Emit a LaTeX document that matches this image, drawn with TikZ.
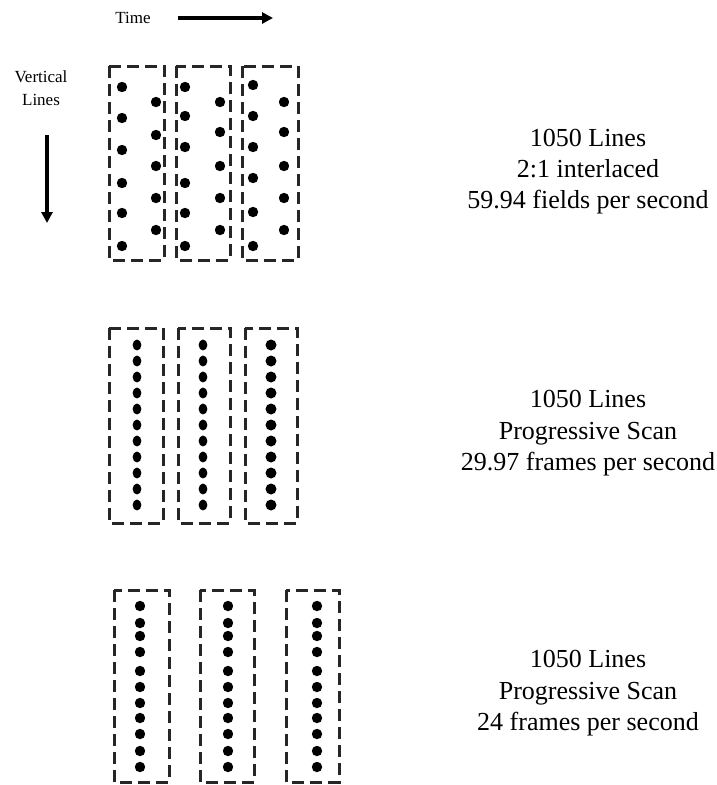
\documentclass[tikz,border=0pt]{standalone}
\usepackage{fontspec}
\setmainfont{Liberation Serif}
\usetikzlibrary{arrows.meta}
\definecolor{dashgray}{HTML}{262626}
\tikzset{
  framebox/.style={draw=dashgray, line width=3pt, dash pattern=on 12pt off 6pt},
  bigtext/.style={anchor=base, inner sep=0pt, font=\fontsize{26}{30}\selectfont},
  smalltext/.style={anchor=base, inner sep=0pt, font=\fontsize{17}{20}\selectfont},
  axisarrow/.style={line width=3.2pt, -{Triangle[length=11pt,width=11pt]}},
}
\newcommand{\dotat}[2]{\fill (#1,#2) circle (5.2);}
\newcommand{\edotat}[2]{\fill (#1,#2) ellipse (4.4 and 5.4);}
\begin{document}
\begin{tikzpicture}[x=1pt,y=-1pt]
\useasboundingbox (0,0) rectangle (716,785);
% axis labels and arrows
\node[smalltext] (time) at (133,23) {Time};
\coordinate (ta) at (178,18);
\coordinate (tb) at (273,18);
\draw[axisarrow] (ta) -- (tb);
\node[smalltext] (vert) at (41,82) {Vertical};
\node[smalltext] (vlines) at (41,105) {Lines};
\coordinate (va) at (47,135);
\coordinate (vb) at (47,223);
\draw[axisarrow] (va) -- (vb);

% top row: interlaced
\draw[framebox] (109,66) rectangle (164,260);
\draw[framebox] (176,66) rectangle (230,260);
\draw[framebox] (242,66) rectangle (298,260);
\foreach \y in {87,118,150,183,213,246} {\dotat{122}{\y}}
\foreach \y in {102,135,166,198,230} {\dotat{156}{\y}}
\foreach \y in {87,116,147,183,213,246} {\dotat{185}{\y}}
\foreach \y in {102,132,166,198,230} {\dotat{220}{\y}}
\foreach \y in {85,116,147,178,212,246} {\dotat{253}{\y}}
\foreach \y in {102,132,166,198,230} {\dotat{284}{\y}}

% middle row
\draw[framebox] (109,328) rectangle (163,523);
\draw[framebox] (178,328) rectangle (230,523);
\draw[framebox] (245,328) rectangle (297,523);
\foreach \i in {0,...,10} {
  \edotat{137}{345+16*\i}
  \edotat{203}{345+16*\i}
  \fill (271,345+16*\i) circle (5.5);
}

% bottom row
\draw[framebox] (114,590) rectangle (169,782);
\draw[framebox] (200,590) rectangle (254,782);
\draw[framebox] (286,590) rectangle (339,782);
\foreach \y in {606,623,636,652,671,687,703,718,734,751,767} {
  \dotat{140}{\y}
  \dotat{228}{\y}
  \dotat{317}{\y}
}

% descriptions
\node[bigtext] (t1a) at (588,146) {1050 Lines};
\node[bigtext] (t1b) at (588,177) {2:1 interlaced};
\node[bigtext] (t1c) at (588,208) {59.94 fields per second};
\node[bigtext] (t2a) at (588,407) {1050 Lines};
\node[bigtext] (t2b) at (588,439) {Progressive Scan};
\node[bigtext] (t2c) at (588,470) {29.97 frames per second};
\node[bigtext] (t3a) at (588,667) {1050 Lines};
\node[bigtext] (t3b) at (588,699) {Progressive Scan};
\node[bigtext] (t3c) at (588,730) {24 frames per second};
\end{tikzpicture}
\end{document}
